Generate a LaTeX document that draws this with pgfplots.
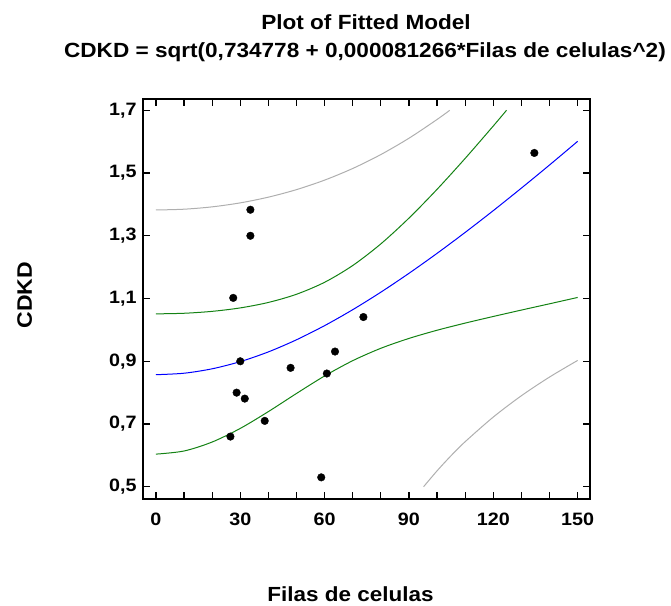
\documentclass[border=0pt]{standalone}
\usepackage{fontspec}
\setmainfont{Liberation Sans}[FakeStretch=1.1]
\usepackage{pgfplots}
\pgfplotsset{compat=1.18}

\definecolor{fitblue}{RGB}{0,0,255}
\definecolor{confgreen}{RGB}{20,130,20}
\definecolor{predgray}{RGB}{175,175,175}

\begin{document}
\begin{tikzpicture}[x=1bp,y=1bp]
\path[use as bounding box] (-143,-107) rectangle (528,499);
\begin{axis}[at={(0,0)}, anchor=south west, scale only axis,
  width=447bp, height=400bp,
  xmin=-4.6, xmax=154.4, ymin=0.461, ymax=1.736,
  xtick={0,30,60,90,120,150}, minor x tick num=2,
  ytick={0.5,0.7,0.9,1.1,1.3,1.5,1.7},
  tick align=inside, xtick pos=both, ytick pos=both,
  major tick length=7bp, minor tick length=7bp,
  axis line style={line width=1.6bp},
  every tick/.style={black, line width=1.2bp},
  ticklabel style={font=\bfseries\fontsize{18}{18}\selectfont},
  yticklabel style={xshift=-3bp, /pgf/number format/.cd, fixed, fixed zerofill, precision=1, use comma},
  xticklabel style={yshift=-10bp},
  /pgf/number format/assume math mode=true]

% prediction limits
\addplot[predgray, line width=1bp, smooth] coordinates {
(0,1.3822)(10,1.3847)(20,1.3922)(30,1.4049)(40,1.4231)(50,1.4471)(60,1.4774)
(70,1.5145)(80,1.5589)(90,1.6109)(100,1.6707)(104.5,1.7000)};
\addplot[predgray, line width=1bp, smooth] coordinates {
(95.2,0.5000)(100,0.5508)(105,0.5993)(110,0.6437)(120,0.7222)(130,0.7902)(140,0.8497)(150,0.9027)};

% confidence limits
\addplot[confgreen, line width=1bp, smooth] coordinates {
(0,1.0511)(10,1.0530)(20,1.0591)(30,1.0701)(40,1.0875)(50,1.1136)(60,1.1518)
(70,1.2052)(80,1.2742)(90,1.3563)(100,1.4481)(110,1.5467)(120,1.6500)(124.7,1.7000)};
\addplot[confgreen, line width=1bp, smooth] coordinates {
(0,0.6040)(10,0.6140)(20,0.6426)(30,0.6860)(40,0.7396)(50,0.7974)(60,0.8532)
(70,0.9019)(80,0.9414)(90,0.9728)(100,0.9989)(110,1.0217)(120,1.0428)(130,1.0632)(140,1.0832)(150,1.1034)};

% fitted model
\addplot[fitblue, line width=1bp, smooth] coordinates {
(0,0.8572)(10,0.8619)(20,0.8760)(30,0.8989)(40,0.9299)(50,0.9685)(60,1.0136)(70,1.0644)
(80,1.1202)(90,1.1803)(100,1.2440)(110,1.3108)(120,1.3802)(130,1.4520)(140,1.5256)(150,1.6010)};

% observations
\addplot[only marks, mark=*, mark size=3.8bp, black] coordinates {
(26.5,0.660)(27.5,1.102)(28.7,0.800)(30.0,0.900)(31.6,0.781)(33.6,1.383)(33.6,1.300)
(38.7,0.710)(47.9,0.879)(58.8,0.530)(60.8,0.861)(63.7,0.931)(73.8,1.041)(134.6,1.564)};
\end{axis}

\node[anchor=base, font=\bfseries\fontsize{20.6}{20.6}\selectfont] at (223,469) {Plot of Fitted Model};
\node[anchor=base, font=\bfseries\fontsize{20.6}{20.6}\selectfont] at (222,441) {CDKD = sqrt(0,734778 + 0,000081266*Filas de celulas\^{}2)};
\node[anchor=base, font=\bfseries\fontsize{20.5}{20.5}\selectfont] at (207.5,-103) {Filas de celulas};
\node[anchor=base, rotate=90, font=\bfseries\fontsize{21}{21}\selectfont] at (-111,204) {CDKD};
\end{tikzpicture}
\end{document}
